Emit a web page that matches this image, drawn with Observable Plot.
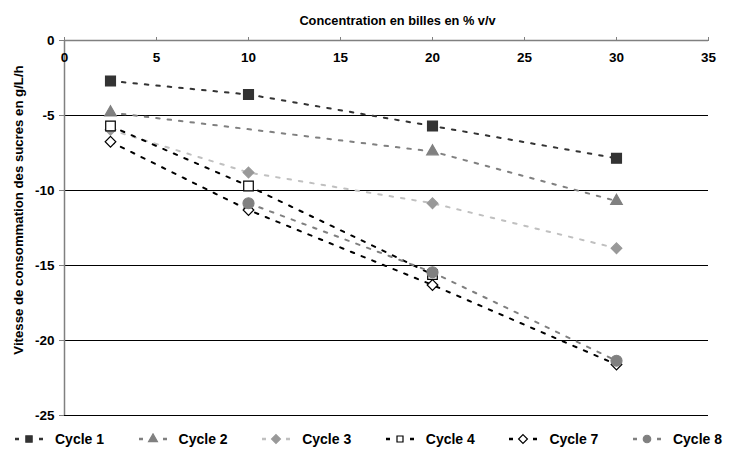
<!DOCTYPE html>
<html><head><meta charset="utf-8">
<script src="https://cdn.jsdelivr.net/npm/d3@7"></script>
<script src="https://cdn.jsdelivr.net/npm/@observablehq/plot@0.6"></script>
<style>
body{margin:0;background:#fff;font-family:"Liberation Sans",Arial,sans-serif;}
#legend{display:flex;height:27px;align-items:center;padding-left:15px;width:729px;overflow:hidden}
.item{display:flex;align-items:center;flex:0 0 123.6px;font-weight:bold;font-size:14px;color:#000;}
.item svg{margin-right:12px;display:block}
</style></head><body><div id="chart"></div><div id="legend"></div>
<script>
// ---- data ----
const concentration = [2.5, 10, 20, 30];
const cycleNames = ["Cycle 1", "Cycle 2", "Cycle 3", "Cycle 4", "Cycle 7", "Cycle 8"];
const cycle1 = [-2.7, -3.6, -5.7, -7.85];
const cycle2 = [-4.8, null, -7.4, -10.7];
const cycle3 = [-5.95, -8.8, -10.85, -13.85];
const cycle4 = [-5.7, -9.7, -15.6, null];
const cycle7 = [-6.75, -11.3, -16.3, -21.6];
const cycle8 = [null, -10.85, -15.45, -21.35];
const xTicks = [0, 5, 10, 15, 20, 25, 30, 35];
const yTicks = [0, -5, -10, -15, -20, -25];
const gridValues = [-5, -10, -15, -20, -25];
const xTitle = "Concentration en billes en % v/v";
const yTitle = "Vitesse de consommation des sucres en g/L/h";

// ---- styles ----
const seriesValues = [cycle1, cycle2, cycle3, cycle4, cycle7, cycle8];
const styles = [
  {line: "#333333", fill: "#333333", stroke: "#333333", symbol: "square", r: 5.6, d3sym: d3.symbolSquare, lsize: 40},
  {line: "#808080", fill: "#808080", stroke: "#808080", symbol: "triangle", r: 4.3, d3sym: d3.symbolTriangle, lsize: 34},
  {line: "#c0c0c0", fill: "#999999", stroke: "#999999", symbol: "diamond2", r: 4.8, d3sym: d3.symbolDiamond2, lsize: 50},
  {line: "#000000", fill: "#ffffff", stroke: "#000000", symbol: "square", r: 5.4, d3sym: d3.symbolSquare, lsize: 36},
  {line: "#000000", fill: "#ffffff", stroke: "#000000", symbol: "diamond2", r: 4.8, d3sym: d3.symbolDiamond2, lsize: 50},
  {line: "#808080", fill: "#808080", stroke: "#808080", symbol: "circle", r: 5.5, d3sym: d3.symbolCircle, lsize: 44}
];

const tables = seriesValues.map((vals, k) =>
  concentration.map((c, i) => ({cycle: cycleNames[k], x: c, y: vals[i]})).filter(d => d.y != null));

const lineMarks = tables.map((t, k) => Plot.line(t, {x: "x", y: "y", stroke: styles[k].line, strokeWidth: 2, strokeDasharray: "3.5,8"}));
const dotMarks = tables.map((t, k) => Plot.dot(t, {x: "x", y: "y", symbol: styles[k].symbol, r: styles[k].r, fill: styles[k].fill, stroke: styles[k].stroke, strokeWidth: 1.2}));

const chart = Plot.plot({
  width: 729,
  height: 425,
  marginTop: 40,
  marginLeft: 64,
  marginRight: 21,
  marginBottom: 10,
  style: {fontFamily: "'Liberation Sans', Arial, sans-serif", fontSize: "12px", fontWeight: "bold", color: "#000", background: "#fff"},
  x: {domain: [0, 35], axis: null},
  y: {domain: [-25, 0], axis: null},
  marks: [
    Plot.ruleY(gridValues, {y: d => d, stroke: "#000", strokeWidth: 1}),
    Plot.ruleY([0], {y: d => d, stroke: "#808080", strokeWidth: 1.5}),
    Plot.ruleX([0], {x: d => d, stroke: "#808080", strokeWidth: 1.5}),
    Plot.axisX({anchor: "top", ticks: xTicks, tickSize: 4, tickFormat: () => "", label: null, stroke: "#808080"}),
    Plot.text(xTicks, {x: d => d, y: xTicks.map(() => 0), text: d => String(d), dy: 17, fontSize: 13.5, fontWeight: "bold", fill: "#000"}),
    Plot.axisY({anchor: "left", ticks: yTicks, tickSize: 5, tickPadding: 5, tickFormat: d => String(d), label: null, fontSize: 13.5, fontWeight: "bold", stroke: "#808080", color: "#000"}),
    Plot.text([xTitle], {frameAnchor: "top", dy: -25, dx: 11, fontSize: 12.8, fontWeight: "bold", fill: "#000"}),
    Plot.text([yTitle], {frameAnchor: "left", dx: -46, dy: -18, rotate: -90, textAnchor: "middle", fontSize: 13.2, fontWeight: "bold", fill: "#000"}),
    ...lineMarks,
    ...dotMarks
  ]
});
document.getElementById("chart").appendChild(chart);

// ---- legend ----
const legend = d3.select("#legend");
cycleNames.forEach((name, k) => {
  const s = styles[k];
  const item = legend.append("div").attr("class", "item");
  const svg = item.append("svg").attr("width", 28).attr("height", 12);
  svg.append("line").attr("x1", 0).attr("x2", 28).attr("y1", 6).attr("y2", 6)
    .attr("stroke", s.line).attr("stroke-width", 2.5).attr("stroke-dasharray", "4,8");
  svg.append("path").attr("transform", "translate(14,6)")
    .attr("d", d3.symbol(s.d3sym, s.lsize)())
    .attr("fill", s.fill).attr("stroke", s.stroke).attr("stroke-width", 1.2);
  item.append("span").text(name);
});
</script>
</body></html>
